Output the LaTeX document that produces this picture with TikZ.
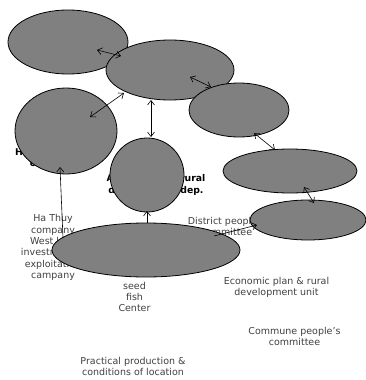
\documentclass[tikz,border=0pt]{standalone}
\usepackage{fontspec}
\setmainfont{DejaVu Sans}
\usetikzlibrary{calc, shapes.geometric, arrows.meta}

\tikzset{
  blob/.style={ellipse, draw=black, line width=0.8pt, fill=black!50, inner sep=0pt},
  lbl/.style={text=black!75, align=center, inner sep=0pt, font=\fontsize{9.5}{11.4}\selectfont},
  blbl/.style={align=center, inner sep=0pt, font=\fontsize{9.3}{11.5}\selectfont\bfseries},
  link/.style={line width=0.6pt}
}

\begin{document}
\begin{tikzpicture}[x=1pt, y=-1pt, >={Straight Barb[length=4.5pt,width=7pt]}]
        \useasboundingbox (0,0) rectangle (366,380);

        % Add the labels first, the shapes lie over them
        \node[blbl] (hlabel) at (53.5,158.5) {Hau Giang fish\\company};
        \node[blbl] (alabel) at (156,185) {Agriculture \& rural\\development dep.};
        \node[lbl] (hathuy) at (53,247.5) {Ha Thuy\\company\\West lake\\investment \&\\exploitation\\campany};
        \node[lbl] (seed) at (134.5,297) {seed\\fish\\Center};
        \node[lbl] (district) at (226.5,226.5) {District people's\\committee};
        \node[lbl] (econ) at (276.5,287.5) {Economic plan \& rural\\development unit};
        \node[lbl] (commune) at (294.5,336.5) {Commune people's\\committee};
        \node[lbl] (practical) at (133,366.5) {Practical production \&\\conditions of location};

        % Draw the ellipses
        \node[blob, minimum width=120, minimum height=64] (e1) at (68,42) {};
        \node[blob, minimum width=102, minimum height=86] (e3) at (66,131) {};
        \node[blob, minimum width=128, minimum height=60] (e2) at (170,70) {};
        \node[blob, minimum width=100, minimum height=54] (e4) at (239,110) {};
        \node[blob, minimum width=134, minimum height=44] (e5) at (290,171) {};
        \node[blob, minimum width=74, minimum height=74] (e6) at (147,175) {};
        \node[blob, minimum width=116, minimum height=40] (e7) at (308,220) {};
        \node[blob, minimum width=188, minimum height=54] (e8) at (146,250) {};

        % Draw the arrows
        \draw[link, <->] ($(e1)+(29,8)$) -- ($(e2)+(-49,-14)$);
        \draw[link, <->] ($(e3)+(24,-14)$) -- ($(e2)+(-46,23)$);
        \draw[link, <->] ($(e2)+(-19,30)$) -- ($(e6)+(4,-38)$);
        \draw[link, <->] ($(e2)+(20,7)$) -- ($(e4)+(-28,-23)$);
        \draw[link, <->] ($(e4)+(15,23)$) -- ($(e5)+(-15,-21)$);
        \draw[link, <->] ($(e5)+(14,16)$) -- ($(e7)+(6,-17)$);
        \draw[link, ->] ($(e8)+(68,-14)$) -- ($(e7)+(-51,5)$);
        \draw[link, ->] ($(e8)+(1,-27)$) -- ($(e6)+(0,36)$);
        \draw[link, ->] ($(e8)+(-83,-12)$) -- ($(e3)+(-6,36)$);
    \end{tikzpicture}
\end{document}
